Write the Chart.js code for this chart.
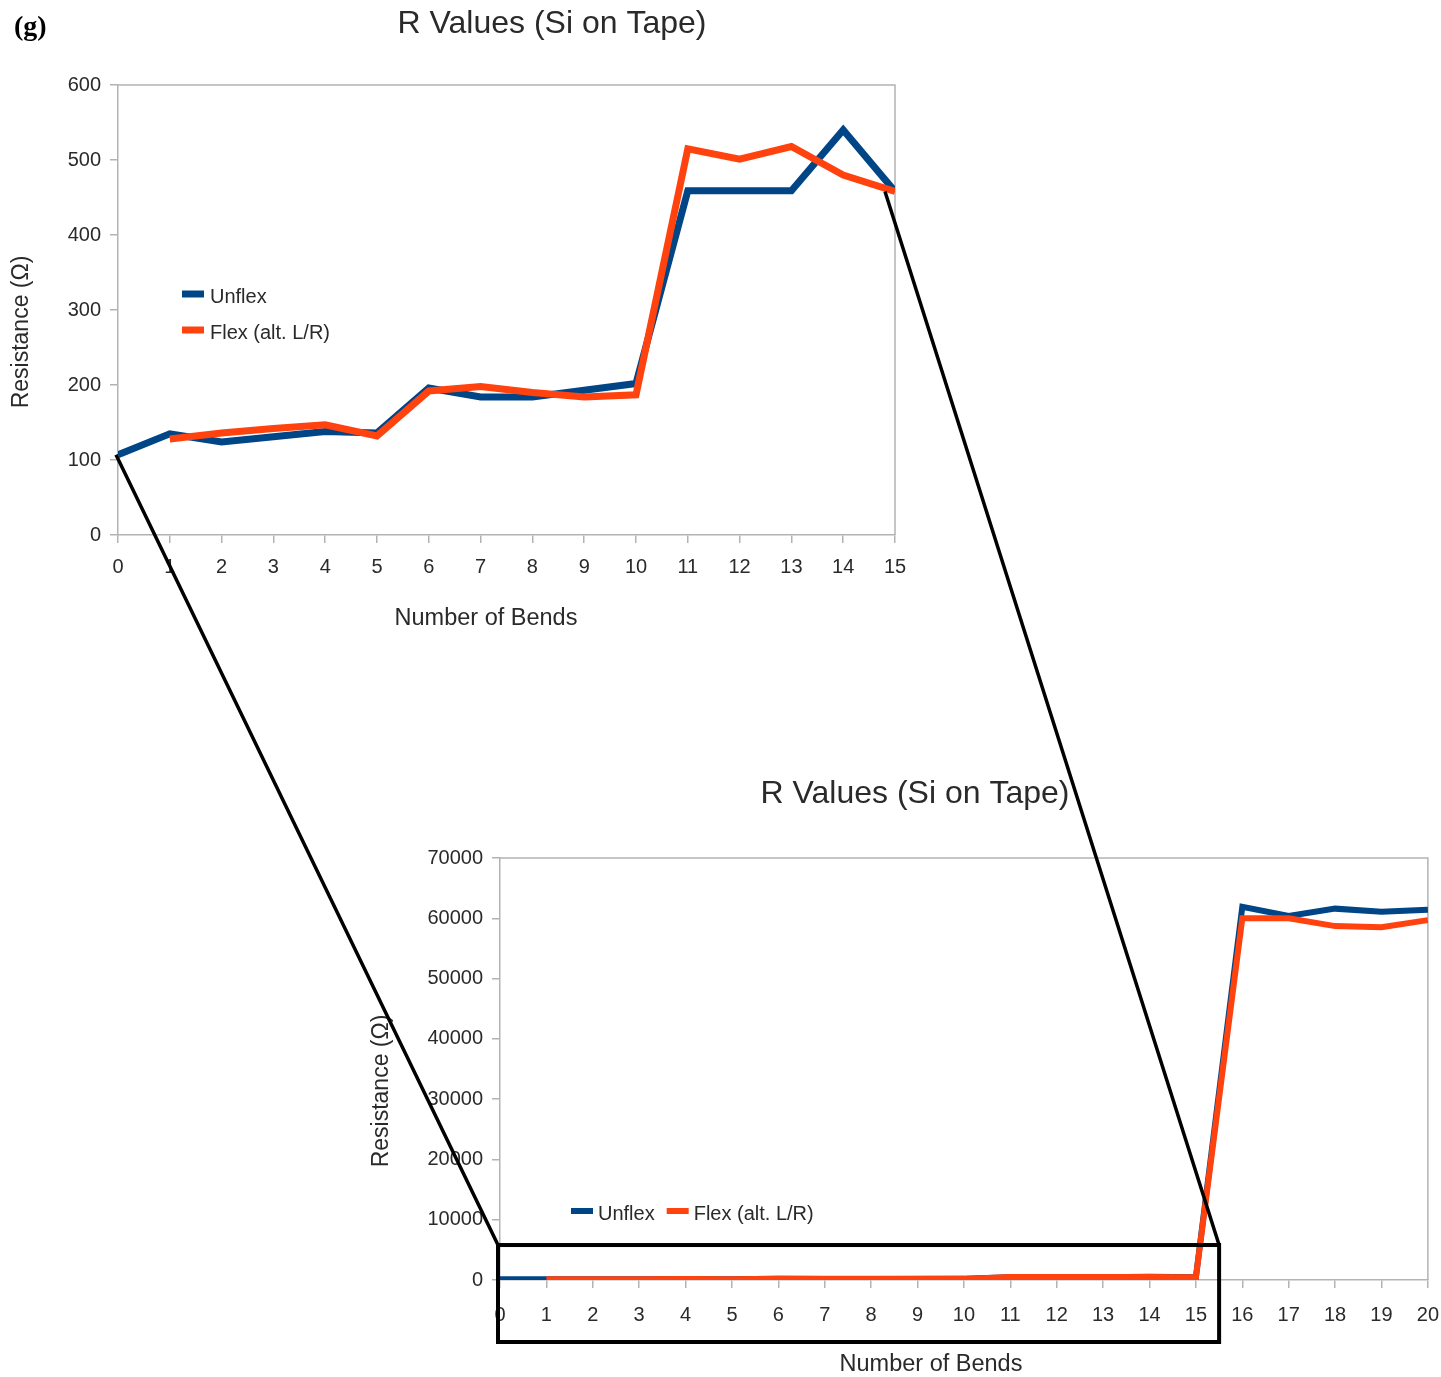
<!DOCTYPE html>
<html>
<head>
<meta charset="utf-8">
<title>R Values (Si on Tape)</title>
<script src="https://cdn.jsdelivr.net/npm/chart.js@4/dist/chart.umd.min.js"></script>
<style>
  html, body { margin: 0; padding: 0; background: #fff; }
  #page { position: relative; width: 1441px; height: 1377px; overflow: hidden; background: #fff; }
  #page canvas { position: absolute; }
  #topChart { left: 0; top: 0; }
  #bottomChart { left: 360px; top: 740px; }
  #overlay { left: 0; top: 0; pointer-events: none; }
</style>
</head>
<body>
<div id="page">
  <canvas id="topChart" width="940" height="660"></canvas>
  <canvas id="bottomChart" width="1094" height="637"></canvas>
  <canvas id="overlay" width="1441" height="1377"></canvas>
</div>
<script>
// Number of bends (x) and measured resistance in ohms for each series
const bends = [0, 1, 2, 3, 4, 5, 6, 7, 8, 9, 10, 11, 12, 13, 14, 15, 16, 17, 18, 19, 20];
const unflex = [107, 135, 124, 131, 138, 136, 196, 184, 184, 193, 202, 459, 459, 459, 540, 458,
                61900, 60400, 61600, 61100, 61400];
const flex = [null, 128, 136, 142, 147, 132, 192, 198, 190, 184, 187, 515, 501, 518, 480, 458,
              60000, 60000, 58700, 58500, 59700];
const seriesNames = ['Unflex', 'Flex (alt. L/R)'];
const chartTitle = 'R Values (Si on Tape)';
const xTitle = 'Number of Bends';
const yTitle = 'Resistance (\u03A9)';

// Tick values of the detail view (bends 0-15) and the full view (bends 0-20)
const detailLastBend = 15;
const detailXTicks = bends.slice(0, detailLastBend + 1);
const detailYTicks = [0, 100, 200, 300, 400, 500, 600];
const fullXTicks = bends.slice();
const fullYTicks = [0, 10000, 20000, 30000, 40000, 50000, 60000, 70000];

// Region of the full view that the detail view enlarges
const zoomRegion = { fromBend: 0, toBend: 15.5, topValue: 5800 };

const BLUE = '#004586';
const ORANGE = '#ff420e';
const AXIS = '#b3b3b3';
const TEXT = '#2a2a2a';
const SANS = '"Liberation Sans", Arial, sans-serif';

// Free text: chart title, axis titles, panel letter
const captions = {
  id: 'captions',
  afterDraw(chart, args, opts) {
    const ctx = chart.ctx;
    (opts.items || []).forEach(it => {
      ctx.save();
      ctx.font = it.font;
      ctx.fillStyle = it.color || TEXT;
      ctx.textAlign = it.align || 'center';
      ctx.textBaseline = 'middle';
      ctx.translate(it.x, it.y);
      if (it.rotate) ctx.rotate(it.rotate);
      ctx.fillText(it.text, 0, 0);
      ctx.restore();
    });
  }
};

// Top and right edges of the plot frame
const frame = {
  id: 'frame',
  beforeDatasetsDraw(chart, args, opts) {
    const { left, right, top, bottom } = chart.chartArea;
    const ctx = chart.ctx;
    ctx.save();
    ctx.strokeStyle = opts.color;
    ctx.lineWidth = opts.width;
    ctx.beginPath();
    ctx.moveTo(left, top);
    ctx.lineTo(right, top);
    ctx.lineTo(right, bottom);
    ctx.stroke();
    ctx.restore();
  }
};

// Legend drawn inside the plot area
const insetLegend = {
  id: 'insetLegend',
  afterDatasetsDraw(chart, args, o) {
    const ctx = chart.ctx;
    ctx.save();
    ctx.font = o.font;
    ctx.textBaseline = 'middle';
    ctx.textAlign = 'left';
    let x = o.x, y = o.y;
    chart.data.datasets.forEach(ds => {
      ctx.strokeStyle = ds.borderColor;
      ctx.lineWidth = o.markerHeight;
      ctx.lineCap = 'butt';
      ctx.beginPath();
      ctx.moveTo(x, y - o.markerRaise);
      ctx.lineTo(x + o.markerWidth, y - o.markerRaise);
      ctx.stroke();
      ctx.fillStyle = o.color;
      ctx.fillText(ds.label, x + o.markerWidth + o.textGap, y);
      if (o.horizontal) {
        x += o.markerWidth + o.textGap + ctx.measureText(ds.label).width + o.itemGap;
      } else {
        y += o.rowGap;
      }
    });
    ctx.restore();
  }
};

function points(xs, ys) {
  return xs.map((b, i) => ({ x: b, y: ys[i] }));
}

function axis(ticksList, min, max, fitSize, isX, tickPad) {
  return {
    type: 'linear',
    min: min,
    max: max,
    afterBuildTicks: s => { s.ticks = ticksList.map(v => ({ value: v })); },
    afterFit: s => { if (isX) s.height = fitSize; else s.width = fitSize; },
    grid: { drawOnChartArea: false, drawTicks: true, tickLength: 8, color: AXIS, lineWidth: 1.5 },
    border: { display: true, color: AXIS, width: 1.5 },
    ticks: {
      font: { family: SANS, size: 20 },
      color: TEXT,
      padding: tickPad,
      autoSkip: false,
      maxRotation: 0,
      callback: v => String(v)
    }
  };
}

function buildChart(canvas, o) {
  return new Chart(canvas, {
    type: 'line',
    data: {
      datasets: [
        {
          label: seriesNames[0],
          data: points(o.xs, o.unflex),
          borderColor: BLUE,
          backgroundColor: BLUE,
          borderWidth: o.lineWidth,
          pointRadius: 0,
          tension: 0,
          order: 2
        },
        {
          label: seriesNames[1],
          data: points(o.xs, o.flex),
          borderColor: ORANGE,
          backgroundColor: ORANGE,
          borderWidth: o.lineWidth,
          pointRadius: 0,
          tension: 0,
          spanGaps: false,
          order: 1
        }
      ]
    },
    options: {
      responsive: false,
      animation: false,
      devicePixelRatio: 1,
      layout: { padding: o.padding },
      scales: {
        x: axis(o.xTicks, o.xTicks[0], o.xTicks[o.xTicks.length - 1], o.xAxisHeight, true, o.xTickPad),
        y: axis(o.yTicks, o.yTicks[0], o.yTicks[o.yTicks.length - 1], o.yAxisWidth, false, 9)
      },
      plugins: {
        legend: { display: false },
        tooltip: { enabled: false },
        title: { display: false },
        frame: { color: AXIS, width: 1.5 },
        insetLegend: o.legend,
        captions: { items: o.captions }
      }
    },
    plugins: [frame, insetLegend, captions]
  });
}

// Detail view: bends 0-15
const topChart = buildChart(document.getElementById('topChart'), {
  xs: bends.slice(0, detailLastBend + 1),
  unflex: unflex.slice(0, detailLastBend + 1),
  flex: flex.slice(0, detailLastBend + 1),
  xTicks: detailXTicks,
  yTicks: detailYTicks,
  lineWidth: 7,
  padding: { top: 85, right: 45, bottom: 0, left: 0 },
  yAxisWidth: 118,
  xAxisHeight: 125,
  xTickPad: 12,
  legend: {
    x: 182, y: 297, markerWidth: 22, markerHeight: 7, markerRaise: 3, textGap: 6,
    rowGap: 36, horizontal: false, font: '20px ' + SANS, color: TEXT
  },
  captions: [
    { text: '(g)', font: 'bold 28px "Liberation Serif", "Times New Roman", serif', x: 14, y: 28, align: 'left', color: '#000' },
    { text: chartTitle, font: '32px ' + SANS, x: 552, y: 24 },
    { text: xTitle, font: '23.5px ' + SANS, x: 486, y: 619 },
    { text: yTitle, font: '23px ' + SANS, x: 22, y: 332, rotate: -Math.PI / 2 }
  ]
});

// Full view: bends 0-20
const bottomChart = buildChart(document.getElementById('bottomChart'), {
  xs: bends,
  unflex: unflex,
  flex: flex,
  xTicks: fullXTicks,
  yTicks: fullYTicks,
  lineWidth: 6,
  padding: { top: 118, right: 0, bottom: 0, left: 0 },
  yAxisWidth: 140,
  xAxisHeight: 97,
  xTickPad: 15,
  legend: {
    x: 211, y: 474, markerWidth: 22, markerHeight: 6, markerRaise: 3, textGap: 5,
    itemGap: 12, horizontal: true, font: '20px ' + SANS, color: TEXT
  },
  captions: [
    { text: chartTitle, font: '32px ' + SANS, x: 555, y: 54 },
    { text: xTitle, font: '23.5px ' + SANS, x: 571, y: 625 },
    { text: yTitle, font: '23px ' + SANS, x: 22, y: 351, rotate: -Math.PI / 2 }
  ]
});

// Zoom box in the full view and the connectors to the detail view
(function drawConnectors() {
  const ov = document.getElementById('overlay').getContext('2d');
  const topEl = document.getElementById('topChart');
  const botEl = document.getElementById('bottomChart');
  const tOff = [topEl.offsetLeft, topEl.offsetTop];
  const bOff = [botEl.offsetLeft, botEl.offsetTop];

  const tx = v => tOff[0] + topChart.scales.x.getPixelForValue(v);
  const ty = v => tOff[1] + topChart.scales.y.getPixelForValue(v);
  const bx = v => bOff[0] + bottomChart.scales.x.getPixelForValue(v);
  const by = v => bOff[1] + bottomChart.scales.y.getPixelForValue(v);

  const boxLeft = bx(zoomRegion.fromBend) - 2;
  const boxRight = bx(zoomRegion.toBend);
  const boxTop = by(zoomRegion.topValue);
  const boxBottom = bOff[1] + bottomChart.chartArea.bottom + 62;

  ov.save();
  ov.strokeStyle = '#000';
  ov.lineWidth = 4;
  ov.strokeRect(boxLeft, boxTop, boxRight - boxLeft, boxBottom - boxTop);

  ov.lineWidth = 3.5;
  ov.beginPath();
  ov.moveTo(tx(detailXTicks[0]) - 2, ty(unflex[0]));
  ov.lineTo(boxLeft, boxTop);
  ov.moveTo(tx(detailLastBend) - 10, ty(unflex[detailLastBend]));
  ov.lineTo(boxRight, boxTop);
  ov.stroke();
  ov.restore();
})();
</script>
</body>
</html>
